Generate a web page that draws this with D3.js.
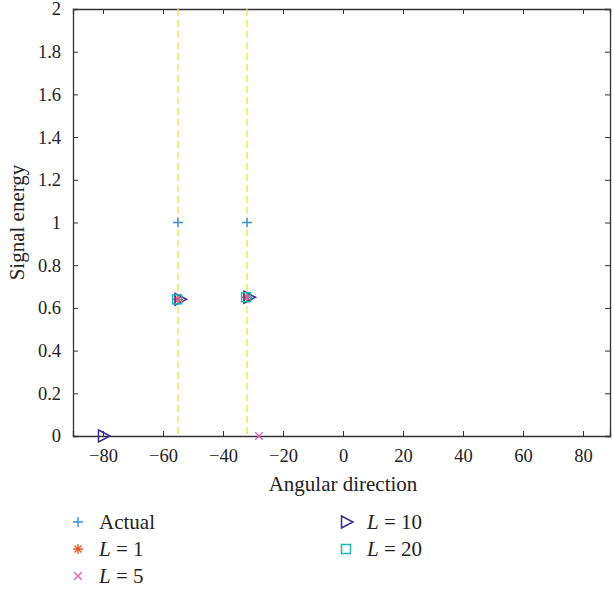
<!DOCTYPE html>
<html>
<head>
<meta charset="utf-8">
<script src="https://cdn.jsdelivr.net/npm/d3@7"></script>
<style>
  body { margin: 0; background: #fff; }
  svg text { font-family: "Liberation Serif", "DejaVu Serif", serif; fill: #222; }
</style>
</head>
<body>
<svg id="chart" width="613" height="594"></svg>
<script>
// data
var xTicks = [-80, -60, -40, -20, 0, 20, 40, 60, 80];
var yTicks = [0, 0.2, 0.4, 0.6, 0.8, 1, 1.2, 1.4, 1.6, 1.8, 2];
var trueAngles = [-55, -32];
var actualX = [-55, -32];
var actualY = [1, 1];
var l1X = [-55, -32];
var l1Y = [0.64, 0.65];
var l5X = [-55, -32, -28];
var l5Y = [0.64, 0.65, 0];
var l10X = [-80, -54.5, -31.5];
var l10Y = [0, 0.64, 0.65];
var l20X = [-55.3, -32.3];
var l20Y = [0.64, 0.65];

var svg = d3.select('#chart');
var margin = {top: 9, right: 3, bottom: 158, left: 73};
var width = +svg.attr('width') - margin.left - margin.right;
var height = +svg.attr('height') - margin.top - margin.bottom;
var g = svg.append('g').attr('transform', 'translate(' + margin.left + ',' + margin.top + ')');

var x = d3.scaleLinear().domain([-90, 89]).range([0, width]);
var y = d3.scaleLinear().domain([0, 2]).range([height, 0]);

var fmt = function(d) { return String(d).replace('-', '\u2212'); };

// axes with inward ticks, mirrored on top and right
g.append('g')
  .attr('transform', 'translate(0,' + height + ')')
  .call(d3.axisBottom(x).tickValues(xTicks).tickSize(-5).tickPadding(13).tickFormat(fmt));
g.append('g')
  .call(d3.axisTop(x).tickValues(xTicks).tickSize(-5).tickFormat(''));
g.append('g')
  .call(d3.axisLeft(y).tickValues(yTicks).tickSize(-5).tickPadding(12).tickFormat(function(d) { return String(d); }));
g.append('g')
  .attr('transform', 'translate(' + width + ',0)')
  .call(d3.axisRight(y).tickValues(yTicks).tickSize(-5).tickFormat(''));

g.selectAll('.domain').attr('stroke', '#333').attr('stroke-width', 1.3);
g.selectAll('.tick line').attr('stroke', '#333').attr('stroke-width', 1);
g.selectAll('.tick text').style('font-size', '18.5px').attr('fill', '#222');

// dashed true-direction lines
g.selectAll('.vline')
  .data(trueAngles)
  .enter().append('line')
  .attr('x1', function(d) { return x(d); })
  .attr('x2', function(d) { return x(d); })
  .attr('y1', 0).attr('y2', height)
  .attr('stroke', '#f2e43a')
  .attr('stroke-width', 1.3)
  .attr('stroke-dasharray', '7,4');

var series = [
  {name: 'Actual', xs: actualX, ys: actualY, color: '#3b8fd3', shape: 'plus'},
  {name: 'L = 1', xs: l1X, ys: l1Y, color: '#ec5a2b', shape: 'star'},
  {name: 'L = 5', xs: l5X, ys: l5Y, color: '#d45fae', shape: 'cross'},
  {name: 'L = 10', xs: l10X, ys: l10Y, color: '#3b2a9a', shape: 'tri'},
  {name: 'L = 20', xs: l20X, ys: l20Y, color: '#1fb8b0', shape: 'square'}
];

function drawMarker(sel, shape, color) {
  var s = 5;
  if (shape === 'plus') {
    sel.append('path').attr('d', 'M' + -s + ',0H' + s + 'M0,' + -s + 'V' + s)
      .attr('stroke', color).attr('stroke-width', 1.4).attr('fill', 'none');
  } else if (shape === 'star') {
    var d = 'M' + -s + ',0H' + s + 'M0,' + -s + 'V' + s +
      'M' + -s * 0.7 + ',' + -s * 0.7 + 'L' + s * 0.7 + ',' + s * 0.7 +
      'M' + -s * 0.7 + ',' + s * 0.7 + 'L' + s * 0.7 + ',' + -s * 0.7;
    sel.append('path').attr('d', d).attr('stroke', color).attr('stroke-width', 1.4).attr('fill', 'none');
  } else if (shape === 'cross') {
    var c = 3.8;
    sel.append('path').attr('d', 'M' + -c + ',' + -c + 'L' + c + ',' + c + 'M' + -c + ',' + c + 'L' + c + ',' + -c)
      .attr('stroke', color).attr('stroke-width', 1.3).attr('fill', 'none');
  } else if (shape === 'tri') {
    sel.append('path').attr('d', 'M-4.5,-6L7,0L-4.5,6Z')
      .attr('stroke', color).attr('stroke-width', 1.5).attr('fill', 'none');
  } else if (shape === 'square') {
    sel.append('rect').attr('x', -4.5).attr('y', -4.5).attr('width', 9).attr('height', 9)
      .attr('stroke', color).attr('stroke-width', 1.5).attr('fill', 'none');
  }
}

series.forEach(function(sr) {
  var pts = sr.xs.map(function(v, i) { return [v, sr.ys[i]]; });
  g.selectAll(null)
    .data(pts)
    .enter().append('g')
    .attr('transform', function(d) { return 'translate(' + x(d[0]) + ',' + y(d[1]) + ')'; })
    .each(function() { drawMarker(d3.select(this), sr.shape, sr.color); });
});

// axis titles
svg.append('text')
  .attr('x', margin.left + x(0))
  .attr('y', 491)
  .attr('text-anchor', 'middle')
  .style('font-size', '21px')
  .text('Angular direction');

svg.append('text')
  .attr('transform', 'translate(24,' + (margin.top + height / 2) + ') rotate(-90)')
  .attr('text-anchor', 'middle')
  .style('font-size', '21px')
  .text('Signal energy');

// legend
var legendPos = [[78, 522], [78, 549], [78, 576], [346, 522], [346, 549]];
series.forEach(function(sr, i) {
  var lg = svg.append('g').attr('transform', 'translate(' + legendPos[i][0] + ',' + legendPos[i][1] + ')');
  drawMarker(lg, sr.shape, sr.color);
  var t = lg.append('text').attr('x', 21).attr('y', 7).style('font-size', '21px');
  if (i === 0) {
    t.text('Actual');
  } else {
    var parts = sr.name.split(' = ');
    t.append('tspan').style('font-style', 'italic').text(parts[0]);
    t.append('tspan').text(' = ' + parts[1]);
  }
});
</script>
</body>
</html>
